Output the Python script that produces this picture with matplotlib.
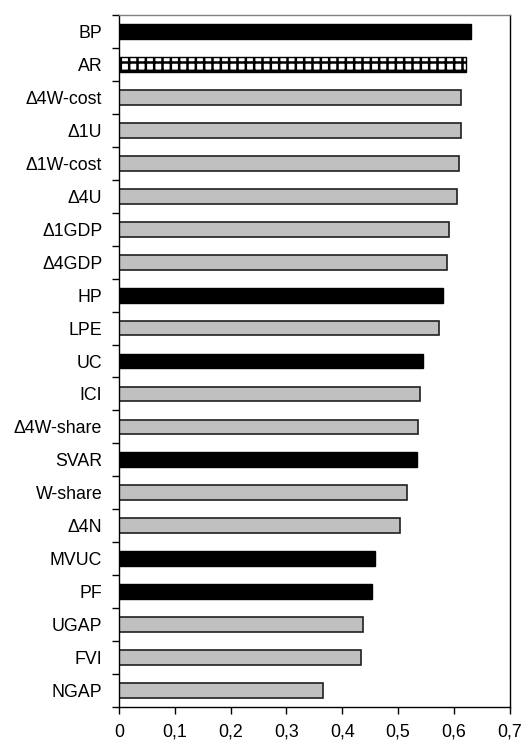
import numpy as np
import matplotlib
matplotlib.use('Agg')
import matplotlib.pyplot as plt
from matplotlib.ticker import FixedLocator, FuncFormatter

plt.rcParams['font.family'] = ['Liberation Sans', 'DejaVu Sans']
plt.rcParams['hatch.linewidth'] = 1.8

# categories top -> bottom
labels = ['BP', 'AR', 'Δ4W-cost', 'Δ1U', 'Δ1W-cost', 'Δ4U', 'Δ1GDP', 'Δ4GDP',
          'HP', 'LPE', 'UC', 'ICI', 'Δ4W-share', 'SVAR', 'W-share', 'Δ4N',
          'MVUC', 'PF', 'UGAP', 'FVI', 'NGAP']
values = [0.630, 0.621, 0.613, 0.613, 0.609, 0.605, 0.591, 0.588,
          0.581, 0.573, 0.544, 0.539, 0.535, 0.533, 0.516, 0.503,
          0.458, 0.453, 0.438, 0.434, 0.365]
kind = ['black', 'hatch', 'gray', 'gray', 'gray', 'gray', 'gray', 'gray',
        'black', 'gray', 'black', 'gray', 'gray', 'black', 'gray', 'gray',
        'black', 'black', 'gray', 'gray', 'gray']
xticks = [0, 0.1, 0.2, 0.3, 0.4, 0.5, 0.6, 0.7]

fig = plt.figure(figsize=(5.31, 7.49), dpi=100)
ax = fig.add_axes([0.224, 0.056, 0.736, 0.924])

n = len(labels)
y = np.arange(n)[::-1]
for yi, v, k in zip(y, values, kind):
    if k == 'black':
        ax.barh(yi, v, height=0.45, color='black', edgecolor='black', linewidth=1)
    elif k == 'hatch':
        ax.barh(yi, v, height=0.45, color='white', edgecolor='black',
                hatch='++', linewidth=1)
    else:
        ax.barh(yi, v, height=0.45, color='#c0c0c0', edgecolor='#202020', linewidth=1.2)

ax.set_xlim(0, 0.7)
ax.set_ylim(-0.5, n - 0.5)
ax.set_yticks(y)
ax.set_yticklabels(labels, fontsize=12.8)
ax.yaxis.set_minor_locator(FixedLocator(np.arange(n + 1) - 0.5))
ax.tick_params(axis='y', which='major', length=0, pad=12)
ax.tick_params(axis='y', which='minor', length=5, width=1, direction='out')

ax.set_xticks(xticks)
ax.xaxis.set_major_formatter(FuncFormatter(lambda v, p: ('%g' % round(v, 1)).replace('.', ',')))
ax.tick_params(axis='x', length=5, width=1, direction='out', pad=7, labelsize=12.8)

for side in ['left', 'bottom', 'right']:
    ax.spines[side].set_color('black')
    ax.spines[side].set_linewidth(1)
ax.spines['top'].set_color('#808080')
ax.spines['top'].set_linewidth(1)

fig.savefig('out.png', dpi=100)
